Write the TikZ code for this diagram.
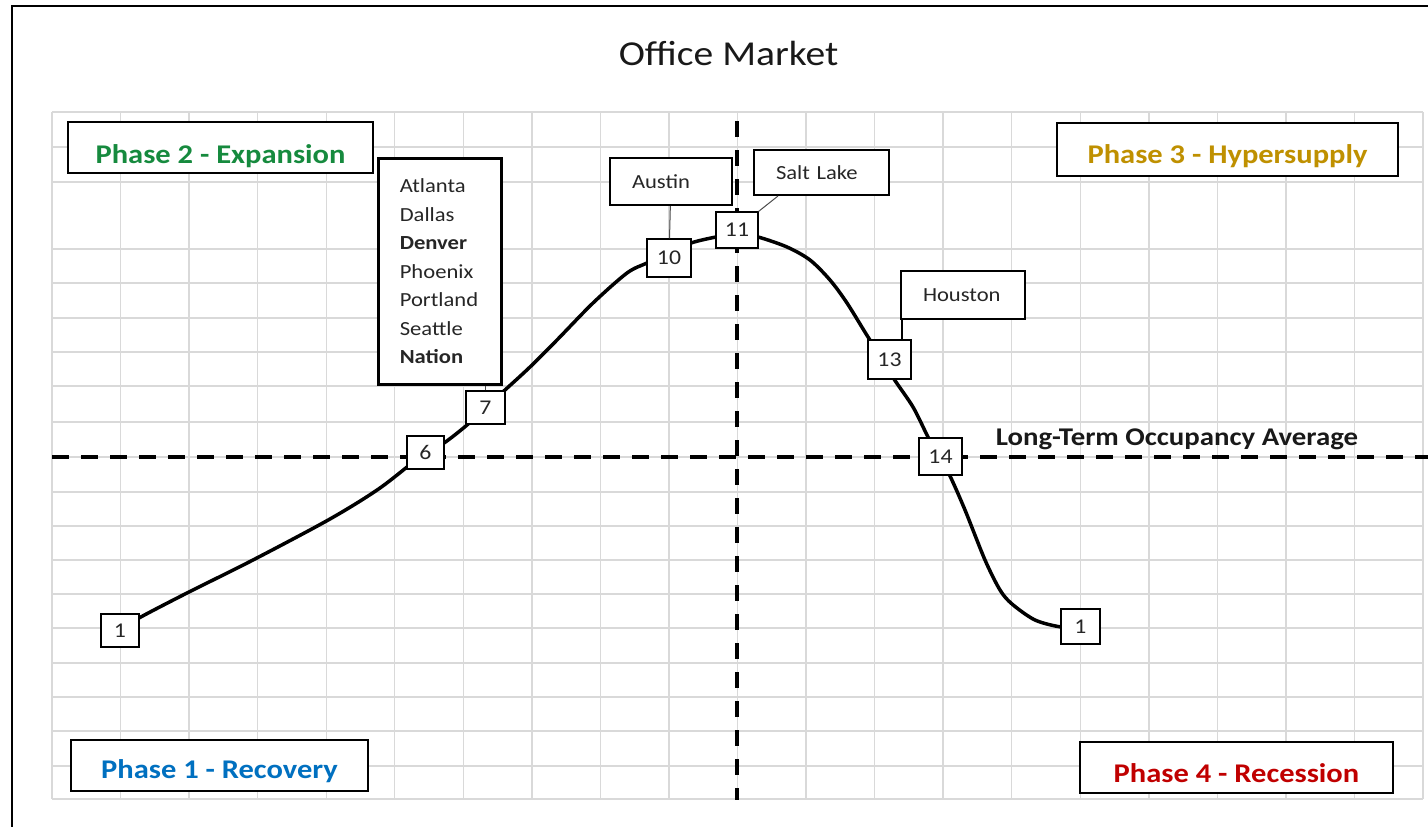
\documentclass[tikz,border=0pt]{standalone}
\usepackage{fontspec}
\setmainfont{Carlito}[FakeStretch=1.13]
\usetikzlibrary{calc}
\pgfdeclarelayer{bg}
\pgfsetlayers{bg,main}
\definecolor{gridgray}{RGB}{217,217,217}
\definecolor{phgreen}{RGB}{22,138,62}
\definecolor{phblue}{RGB}{0,112,192}
\definecolor{phgold}{RGB}{191,144,0}
\definecolor{phred}{RGB}{192,0,0}
\definecolor{txt}{RGB}{38,38,38}
\begin{document}
\begin{tikzpicture}[x=1pt,y=-1pt,
  gridline/.style={draw=gridgray, line width=1.4pt},
  phasebox/.style={draw=black, line width=2.6pt, fill=white, inner sep=0pt,
    font=\fontsize{27}{30}\selectfont\bfseries, text depth=0pt},
  numbox/.style={draw=black, line width=1.2pt, fill=white, inner sep=0pt,
    text=txt, font=\fontsize{21}{23}\selectfont},
  onedigit/.style={numbox, minimum width=38, minimum height=33},
  twodigit/.style={numbox, minimum width=43, minimum height=37},
  tagbox/.style={draw=black, line width=2pt, fill=white, inner xsep=22pt, inner ysep=0pt,
    align=left, text=txt, font=\fontsize{20}{22}\selectfont},
  conn/.style={draw=black!70, line width=1pt},
  avgline/.style={draw=black, line width=4.5pt, dash pattern=on 17pt off 12pt},
  midline/.style={draw=black, line width=4pt, dash pattern=on 16pt off 13pt},
  curveline/.style={draw=black, line width=3.5pt, line join=round, line cap=round},
]
\useasboundingbox (0,0) rectangle (1428,827);

% outer frame
\draw[line width=2.5pt] (1450,6) -- (12,6) -- (12,850);

% title
\node[font=\fontsize{35}{40}\selectfont, text=black!90, anchor=base] (title) at (728.5,65) {Office Market};

% phase boxes
\node[phasebox, text=phgreen, minimum width=305, minimum height=51, text height=31] (p2) at (220.5,147.5) {Phase 2 - Expansion};
\node[phasebox, text=phblue, minimum width=297, minimum height=51, text height=25] (p1) at (219.5,765.5) {Phase 1 - Recovery};
\node[phasebox, text=phgold, minimum width=341, minimum height=53, text height=27] (p3) at (1227.5,149.5) {Phase 3 - Hypersupply};
\node[phasebox, text=phred, minimum width=313, minimum height=51, text height=29] (p4) at (1236.5,767.5) {Phase 4 - Recession};

% average label
\node[font=\fontsize{25.5}{28}\selectfont\bfseries, text=black!90, anchor=base] (lta) at (1177,445) {Long-Term Occupancy Average};

% number boxes
\node[onedigit] (n1a) at (120,630.5) {1};
\node[onedigit, minimum width=37] (n6) at (425.5,452.5) {6};
\node[onedigit, minimum width=39] (n7) at (485.5,407.5) {7};
\node[twodigit, minimum width=44, minimum height=38] (n10) at (669,258) {10};
\node[twodigit, minimum width=42, minimum height=36] (n11) at (737,230) {11};
\node[twodigit, minimum height=39] (n13) at (889.5,359.5) {13};
\node[twodigit] (n14) at (940.5,456.5) {14};
\node[onedigit, minimum width=39, minimum height=35] (n1b) at (1080.5,626.5) {1};

% city tags
\node[tagbox, line width=2.6pt, anchor=north west, text width=80pt, inner xsep=21.5pt,
  minimum height=226, font=\fontsize{20}{28.5}\selectfont] (cities) at (377,157)
  {Atlanta\\Dallas\\\textbf{Denver}\\Phoenix\\Portland\\Seattle\\\textbf{Nation}};
\node[tagbox, text width=78pt, minimum height=47] (austin) at (671,181.5) {Austin};
\node[tagbox, text width=91pt, minimum height=45] (saltlake) at (821.5,172.5) {Salt Lake};
\node[tagbox, text width=80pt, minimum height=48] (houston) at (963,295) {Houston};

% connectors from tags to points
\draw[conn] (n7.north) -- (n7.north |- cities.south);
\draw[conn] (austin) -- (n10);
\draw[conn] ($(saltlake.south west)+(25,0)$) -- (n11.north east);
\draw[conn, draw=black, line width=1.3pt] ($(houston.south west)+(2,0)$) coordinate (hs) -- (hs |- n13.north);

\begin{pgfonlayer}{bg}
  % grid
  \foreach \i in {0,...,20}
    \draw[gridline] ({52+68.55*\i},112) -- ({52+68.55*\i},799);
  \foreach \yy in {112,147,182,249,283,318,352,386,422,457,492,526,560,594,628,663,697,731,766,799}
    \draw[gridline] (52,\yy) -- (1423,\yy);
  % reference lines
  \coordinate (hl) at (52,457);
  \coordinate (hr) at (1430,457);
  \coordinate (vt) at (737,121);
  \coordinate (vb) at (737,800);
  \draw[avgline] (hl) -- (hr);
  \draw[midline] (vt) -- (vb);
  % market cycle curve
  \draw[curveline] plot[smooth, tension=0.5] coordinates {
    (n1a.center) (139,618) (187,593) (253,560) (330,519) (380,488) (n6.center)
    (444,443) (467,425) (n7.center) (505,390) (530,367) (557,340) (593,303)
    (627,273) (647,263) (669,253) (691,243) (716,237) (737,234) (758,237)
    (787,247) (810,260) (830,280) (847,303) (868,337) (882,358) (894,379)
    (913,407) (928,437) (939,457) (950,476) (965,510) (985,560) (1000,590)
    (1012,604) (1035,620) (1061,627) (n1b.center)};
\end{pgfonlayer}
\end{tikzpicture}
\end{document}
